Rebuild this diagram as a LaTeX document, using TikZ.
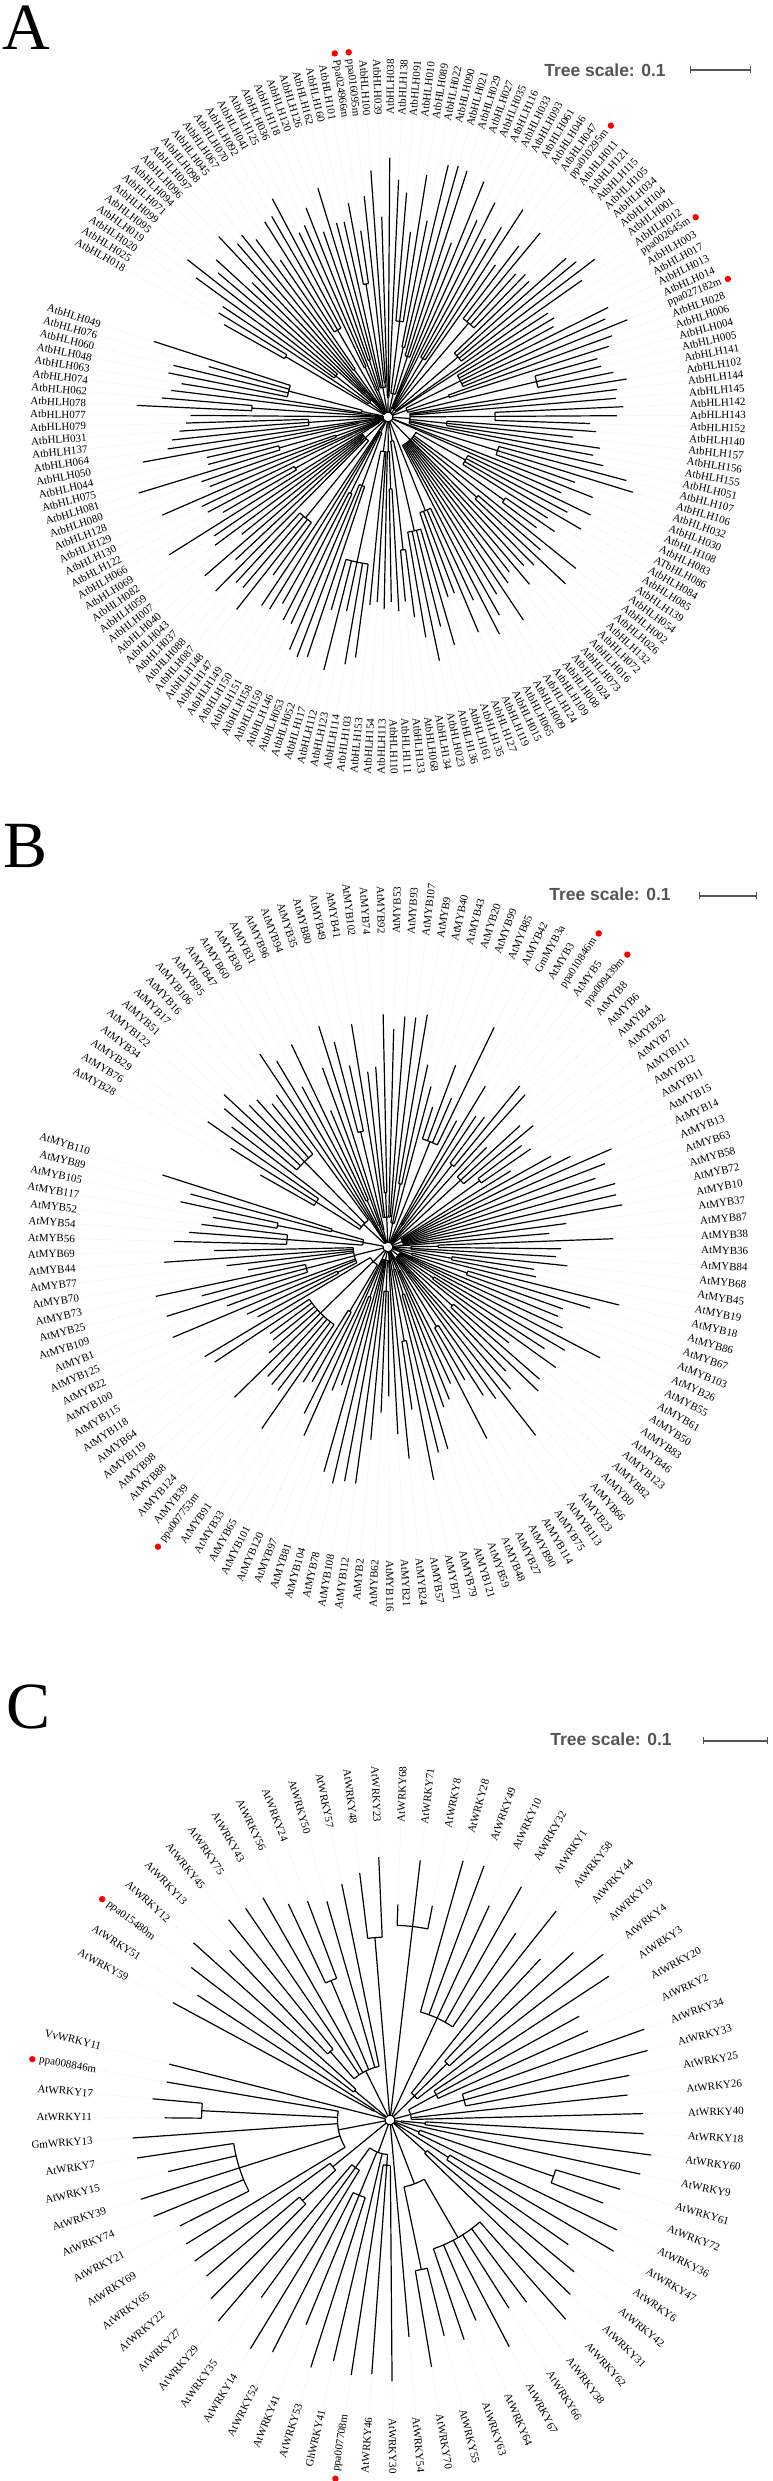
\documentclass[tikz,border=0pt]{standalone}
\usepackage{fontspec}
\setmainfont{Liberation Serif}
\newfontfamily\scalefont{Liberation Sans}
\usetikzlibrary{calc, arrows.meta}

\definecolor{scalegray}{HTML}{555555}

\tikzset{
  branch/.style={line width=1.2pt},
  leader/.style={black!15, dotted, line width=0.5pt},
  leaf/.style={inner sep=0pt, font=\fontsize{11}{12}\selectfont},
  hitdot/.style={fill=red},
  panel/.style={inner sep=0pt, anchor=base west, font=\fontsize{66}{66}\selectfont},
  scaletext/.style={inner sep=0pt, text=scalegray, font=\scalefont\bfseries\fontsize{17.5}{18}\selectfont},
  scalebar/.style={draw=scalegray, line width=1.1pt, {Bar[width=7pt,line width=0.6pt]}-{Bar[width=7pt,line width=0.6pt]}},
}

\def\rzero{5}

% close a group of leaves: arc at its node, stem down to the clade node
\newcommand\closegroup[3]{%
  \pgfmathsetmacro\aOne{#1-(\gFirst-1)*#2}%
  \pgfmathsetmacro\aTwo{#1-(#3-2)*#2}%
  \pgfmathsetmacro\aMid{(\aOne+\aTwo)/2}%
  \pgfmathtruncatemacro\gEnd{#3-1}%
  \ifnum\gFirst<\gEnd
    \draw[branch] (\aOne:\gNode) arc[start angle=\aOne, end angle=\aTwo, radius=\gNode];
  \fi
  \draw[branch] (\aMid:\cRad) -- (\aMid:\gNode);
  \ifnum\cNew=1 \xdef\cFirst{\aMid}\xdef\cNew{0}\fi
  \xdef\cLast{\aMid}%
}
% close a clade of groups: arc at its node, stem down to the root ring
\newcommand\closeclade{%
  \pgfmathsetmacro\aMid{(\cFirst+\cLast)/2}%
  \draw[branch] (\cFirst:\cRad) arc[start angle=\cFirst, end angle=\cLast, radius=\cRad];
  \draw[branch] (\aMid:\rzero) -- (\aMid:\cRad);
  \ifnum\rNew=1 \xdef\rFirst{\aMid}\xdef\rNew{0}\fi
  \xdef\rLast{\aMid}%
}
% #1 tag, #2 first angle, #3 step, #4 label radius, #5 shortest tip, #6 longest tip, #7 clade depth, #8 leaves
\newcommand\phylotree[8]{%
  \xdef\gFirst{1}\xdef\gNode{0}\xdef\cRad{0}\xdef\cNew{1}\xdef\rNew{1}%
  \foreach \name [count=\i] in {#8} {%
    \pgfmathsetmacro\ang{#2-(\i-1)*#3}%
    \pgfmathtruncatemacro\newg{(rnd<0.55)+(\i==1)}%
    \ifnum\newg>0
      \ifnum\i>1 \closegroup{#2}{#3}{\i}\fi
      \pgfmathtruncatemacro\newc{(rnd<0.35)+(\i==1)}%
      \ifnum\newc>0
        \ifnum\i>1 \closeclade\fi
        \pgfmathsetmacro\tmp{\rzero+rnd*#7}\xdef\cRad{\tmp}\xdef\cNew{1}%
      \fi
      \pgfmathsetmacro\tmp{\cRad+rnd*(#5-20-\cRad)}\xdef\gNode{\tmp}\xdef\gFirst{\i}%
    \fi
    \pgfmathsetmacro\tip{#5+rnd*(#6-#5)}%
    \coordinate (t#1\i) at (\ang:\tip);
    \draw[branch] (\ang:\gNode) -- (t#1\i);
    \pgfmathtruncatemacro\lefthalf{(\ang>90)+(\ang<-90)}%
    \ifnum\lefthalf>0
      \node[leaf, anchor=east, rotate=\ang+180] (l#1\i) at (\ang:#4) {\name};
    \else
      \node[leaf, anchor=west, rotate=\ang] (l#1\i) at (\ang:#4) {\name};
    \fi
    \draw[leader] (t#1\i) -- (l#1\i);
    \xdef\gLast{\i}%
  }%
  \pgfmathtruncatemacro\nxt{\gLast+1}%
  \closegroup{#2}{#3}{\nxt}%
  \closeclade
  \draw[branch] (\rFirst:\rzero) arc[start angle=\rFirst, end angle=\rLast, radius=\rzero];
}
% red marks after the peach genes
\newcommand\hitdots[4]{%
  \foreach \k in {#4} {%
    \pgfmathsetmacro\ang{#2-(\k-1)*#3}%
    \pgfmathtruncatemacro\lefthalf{(\ang>90)+(\ang<-90)}%
    \ifnum\lefthalf>0
      \fill[hitdot] ($(l#1\k.west)+(\ang:7)$) circle (3.2);
    \else
      \fill[hitdot] ($(l#1\k.east)+(\ang:7)$) circle (3.2);
    \fi
  }%
}

\begin{document}
\begin{tikzpicture}[x=1pt, y=1pt]
  \fill[white] (0,0) rectangle (772,2481);
  \useasboundingbox (0,0) rectangle (772,2481);

  % A: bHLH
  \node[panel] (letterA) at (2,2431) {A};
  \node[scaletext] (scaleA) at (605,2411) {Tree scale: 0.1};
  \coordinate (barAl) at (690,2411);
  \coordinate (barAr) at (751,2411);
  \draw[scalebar] (barAl) -- (barAr);
  \pgfmathsetseed{11}
  \begin{scope}[shift={(388,2064)}]
    \phylotree{A}{150.6}{2.178}{302}{185}{262}{30}{AtbHLH018,AtbHLH025,AtbHLH020,AtbHLH019,AtbHLH095,AtbHLH099,AtbHLH071,AtbHLH094,AtbHLH096,AtbHLH097,AtbHLH098,AtbHLH045,AtbHLH067,AtbHLH070,AtbHLH092,AtbHLH041,AtbHLH125,AtbHLH036,AtbHLH118,AtbHLH120,AtbHLH126,AtbHLH162,AtbHLH160,AtbHLH101,Ppa024966m,ppa016095m,AtbHLH100,AtbHLH039,AtbHLH038,AtbHLH138,AtbHLH091,AtbHLH010,AtbHLH089,AtbHLH022,AtbHLH090,AtbHLH021,AtbHLH029,AtbHLH027,AtbHLH035,AtbHLH116,AtbHLH033,AtbHLH093,AtbHLH061,AtbHLH046,AtbHLH047,ppa010295m,AtbHLH011,AtbHLH121,AtbHLH115,AtbHLH105,AtbHLH034,AtbHLH104,AtbHLH001,AtbHLH012,ppa002645m,AtbHLH003,AtbHLH017,AtbHLH013,AtbHLH014,ppa027182m,AtbHLH028,AtbHLH006,AtbHLH004,AtbHLH005,AtbHLH141,AtbHLH102,AtbHLH144,AtbHLH145,AtbHLH142,AtbHLH143,AtbHLH152,AtbHLH140,AtbHLH157,AtbHLH156,AtbHLH155,AtbHLH051,AtbHLH107,AtbHLH106,AtbHLH032,AtbHLH030,AtbHLH108,AtbHLH083,ATbHLH086,AtbHLH084,AtbHLH085,AtbHLH139,AtbHLH054,AtbHLH002,AtbHLH026,AtbHLH132,AtbHLH072,AtbHLH016,AtbHLH073,AtbHLH024,AtbHLH008,AtbHLH109,AtbHLH124,AtbHLH009,AtbHLH065,AtbHLH015,AtbHLH119,AtbHLH127,AtbHLH135,AtbHLH161,AtbHLH136,AtbHLH023,AtbHLH134,AtbHLH068,AtbHLH133,AtbHLH111,AtbHLH110,AtbHLH113,AtbHLH154,AtbHLH153,AtbHLH103,AtbHLH114,AtbHLH123,AtbHLH112,AtbHLH117,AtbHLH052,AtbHLH053,AtbHLH146,AtbHLH159,AtbHLH158,AtbHLH151,AtbHLH150,AtbHLH149,AtbHLH147,AtbHLH148,AtbHLH087,AtbHLH088,AtbHLH037,AtbHLH043,AtbHLH040,AtbHLH007,AtbHLH059,AtbHLH082,AtbHLH069,AtbHLH066,AtbHLH122,AtbHLH130,AtbHLH129,AtbHLH128,AtbHLH080,AtbHLH081,AtbHLH075,AtbHLH044,AtbHLH050,AtbHLH064,AtbHLH137,AtbHLH031,AtbHLH079,AtbHLH077,AtbHLH078,AtbHLH062,AtbHLH074,AtbHLH063,AtbHLH048,AtbHLH060,AtbHLH076,AtbHLH049}
  \end{scope}
  \hitdots{A}{150.6}{2.178}{25,26,46,55,60}

  % B: MYB
  \node[panel] (letterB) at (3,1613) {B};
  \node[scaletext] (scaleB) at (610,1587) {Tree scale: 0.1};
  \coordinate (barBl) at (699,1585);
  \coordinate (barBr) at (757,1585);
  \draw[scalebar] (barBl) -- (barBr);
  \pgfmathsetseed{23}
  \begin{scope}[shift={(388,1234)}]
    \phylotree{B}{150.6}{2.7}{313}{140}{245}{30}{AtMYB28,AtMYB76,AtMYB29,AtMYB34,AtMYB122,AtMYB51,AtMYB17,AtMYB16,AtMYB106,AtMYB95,AtMYB47,AtMYB60,AtMYB30,AtMYB31,AtMYB96,AtMYB94,AtMYB35,AtMYB80,AtMYB49,AtMYB41,AtMYB102,AtMYB74,AtMYB92,AtMYB53,AtMYB93,AtMYB107,AtMYB9,AtMYB40,AtMYB43,AtMYB20,AtMYB99,AtMYB85,AtMYB42,GmMYB3a,AtMYB3,ppa010846m,AtMYB5,ppa009439m,AtMYB8,AtMYB6,AtMYB4,AtMYB32,AtMYB7,AtMYB111,AtMYB12,AtMYB11,AtMYB15,AtMYB14,AtMYB13,AtMYB63,AtMYB58,AtMYB72,AtMYB10,AtMYB37,AtMYB87,AtMYB38,AtMYB36,AtMYB84,AtMYB68,AtMYB45,AtMYB19,AtMYB18,AtMYB86,AtMYB67,AtMYB103,AtMYB26,AtMYB55,AtMYB61,AtMYB50,AtMYB83,AtMYB46,AtMYB123,AtMYB82,AtMYB0,AtMYB66,AtMYB23,AtMYB113,AtMYB75,AtMYB114,AtMYB90,AtMYB27,AtMYB48,AtMYB59,AtMYB121,AtMYB79,AtMYB71,AtMYB57,AtMYB24,AtMYB21,AtMYB116,AtMYB62,AtMYB2,AtMYB112,AtMYB108,AtMYB78,AtMYB104,AtMYB81,AtMYB97,AtMYB120,AtMYB101,AtMYB65,AtMYB33,AtMYB91,ppa007753m,AtMYB39,AtMYB124,AtMYB88,AtMYB98,AtMYB119,AtMYB64,AtMYB118,AtMYB115,AtMYB100,AtMYB22,AtMYB125,AtMYB1,AtMYB109,AtMYB25,AtMYB73,AtMYB70,AtMYB77,AtMYB44,AtMYB69,AtMYB56,AtMYB54,AtMYB52,AtMYB117,AtMYB105,AtMYB89,AtMYB110}
  \end{scope}
  \hitdots{B}{150.6}{2.7}{36,38,104}

  % C: WRKY
  \node[panel] (letterC) at (6,752) {C};
  \node[scaletext] (scaleC) at (611,742) {Tree scale: 0.1};
  \coordinate (barCl) at (703,740);
  \coordinate (barCr) at (768,740);
  \draw[scalebar] (barCl) -- (barCr);
  \pgfmathsetseed{5}
  \begin{scope}[shift={(390,361)}]
    \phylotree{C}{151.6}{4.55}{298}{215}{275}{70}{AtWRKY59,AtWRKY51,ppa015480m,AtWRKY12,AtWRKY13,AtWRKY45,AtWRKY75,AtWRKY43,AtWRKY56,AtWRKY24,AtWRKY50,AtWRKY57,AtWRKY48,AtWRKY23,AtWRKY68,AtWRKY71,AtWRKY8,AtWRKY28,AtWRKY49,AtWRKY10,AtWRKY32,AtWRKY1,AtWRKY58,AtWRKY44,AtWRKY19,AtWRKY4,AtWRKY3,AtWRKY20,AtWRKY2,AtWRKY34,AtWRKY33,AtWRKY25,AtWRKY26,AtWRKY40,AtWRKY18,AtWRKY60,AtWRKY9,AtWRKY61,AtWRKY72,AtWRKY36,AtWRKY47,AtWRKY6,AtWRKY42,AtWRKY31,AtWRKY62,AtWRKY38,AtWRKY66,AtWRKY67,AtWRKY64,AtWRKY63,AtWRKY55,AtWRKY70,AtWRKY54,AtWRKY30,AtWRKY46,ppa007708m,GhWRKY41,AtWRKY53,AtWRKY41,AtWRKY52,AtWRKY14,AtWRKY35,AtWRKY29,AtWRKY27,AtWRKY22,AtWRKY65,AtWRKY69,AtWRKY21,AtWRKY74,AtWRKY39,AtWRKY15,AtWRKY7,GmWRKY13,AtWRKY11,AtWRKY17,ppa008846m,VvWRKY11}
  \end{scope}
  \hitdots{C}{151.6}{4.55}{3,56,76}
\end{tikzpicture}
\end{document}
